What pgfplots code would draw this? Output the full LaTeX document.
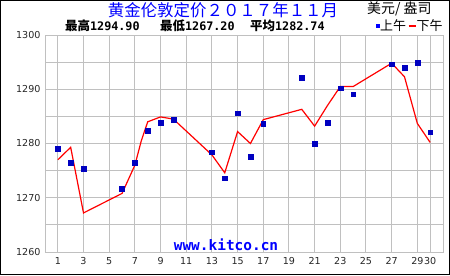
\documentclass[border=0pt]{standalone}
\usepackage{pgfplots}
\pgfplotsset{compat=1.18}
\usepackage{fontspec}
\setmainfont{DejaVu Sans}
\newfontfamily\cjk{Noto Sans CJK SC}
\newfontfamily\mono{DejaVu Sans Mono}
\definecolor{gridgray}{RGB}{192,192,192}
\definecolor{amblue}{RGB}{0,0,192}
\definecolor{ttlblue}{RGB}{0,0,255}
\begin{document}
\begin{tikzpicture}[x=1bp,y=1bp]
\useasboundingbox (0,0) rectangle (450,275);
\fill[white] (0,0) rectangle (450,275);
\draw[black,line width=1.2bp] (0.6,0.6) rectangle (449.4,274.4);
\begin{axis}[
  at={(45bp,23bp)}, anchor=south west,
  scale only axis, width=398bp, height=217bp,
  xmin=0, xmax=31, ymin=1260, ymax=1300,
  xtick={1,3,5,7,9,11,13,15,17,19,21,23,25,27,29,30},
  xticklabels={1,3,5,7,9,11,13,15,17,19,21,23,25,27,29,30},
  ytick={1260,1265,1270,1275,1280,1285,1290,1295,1300},
  yticklabels={1260,,1270,,1280,,1290,,1300},
  grid=major, major grid style={gridgray, line width=1bp},
  axis line style={gridgray, line width=1bp},
  tick style={draw=none},
  tick label style={font=\fontsize{9.6}{9.6}\selectfont, text=black!85},
  /pgf/number format/assume math mode=true,
  xticklabel style={yshift=-2bp},
  yticklabel style={xshift=-1bp},
  clip=false,
]
\addplot[red, line width=1.2bp] coordinates {
(1,1277.0) (2,1279.3) (3,1267.2) (6,1270.8) (7,1276.0) (7.5,1280.5) (8,1284.0) (9,1284.9) (10,1284.5)
(13,1277.9) (14,1274.6) (15,1282.2) (16,1280.0) (17,1284.4) (20,1286.3) (21,1283.2)
(22,1287.0) (23,1290.5) (24,1290.5) (27,1294.8) (28,1292.3) (29,1283.7) (30,1280.2)
};
\addplot[only marks, mark=square*, mark size=2.4bp, mark options={fill=amblue, draw=amblue}] coordinates {
(1,1279.1) (2,1276.4) (3,1275.3) (6,1271.6) (7,1276.4) (8,1282.3) (9,1283.9) (10,1284.4)
(13,1278.4) (14,1273.6) (15,1285.6) (16,1277.6) (17,1283.7) (20,1292.2) (21,1279.9)
(22,1283.9) (23,1290.2) (24,1289.1) (27,1294.6) (28,1293.9) (29,1294.9) (30,1282.1)
};
\end{axis}
% title
\node[text=ttlblue, font=\cjk\fontsize{16.5}{16.5}\selectfont] at (223,265) {黄金伦敦定价２０１７年１１月};
\node[anchor=east, font=\cjk\fontsize{14}{14}\selectfont] at (435,266) {美元/ 盎司};
% stats line
\node[anchor=west, font=\fontsize{12.5}{12.5}\selectfont, inner sep=0pt] at (65,249) {{\cjk\bfseries 最高}{\mono\bfseries\fontsize{11.8}{11.8}\selectfont 1294.90}};
\node[anchor=west, font=\fontsize{12.5}{12.5}\selectfont, inner sep=0pt] at (160,249) {{\cjk\bfseries 最低}{\mono\bfseries\fontsize{11.8}{11.8}\selectfont 1267.20}};
\node[anchor=west, font=\fontsize{12.5}{12.5}\selectfont, inner sep=0pt] at (250,249) {{\cjk\bfseries 平均}{\mono\bfseries\fontsize{11.8}{11.8}\selectfont 1282.74}};
% legend
\fill[ttlblue] (376,247) rectangle (379.5,251);
\node[anchor=west, inner sep=0pt, font=\cjk\fontsize{13}{13}\selectfont] at (380,249) {上午};
\draw[red, line width=2bp] (408.5,249) -- (416,249);
\node[anchor=west, inner sep=0pt, font=\cjk\fontsize{13}{13}\selectfont] at (416.5,249) {下午};
% watermark
\node[text=ttlblue, font=\mono\bfseries\fontsize{14.5}{14.5}\selectfont, anchor=base] at (226,25) {www.kitco.cn};
\end{tikzpicture}
\end{document}
